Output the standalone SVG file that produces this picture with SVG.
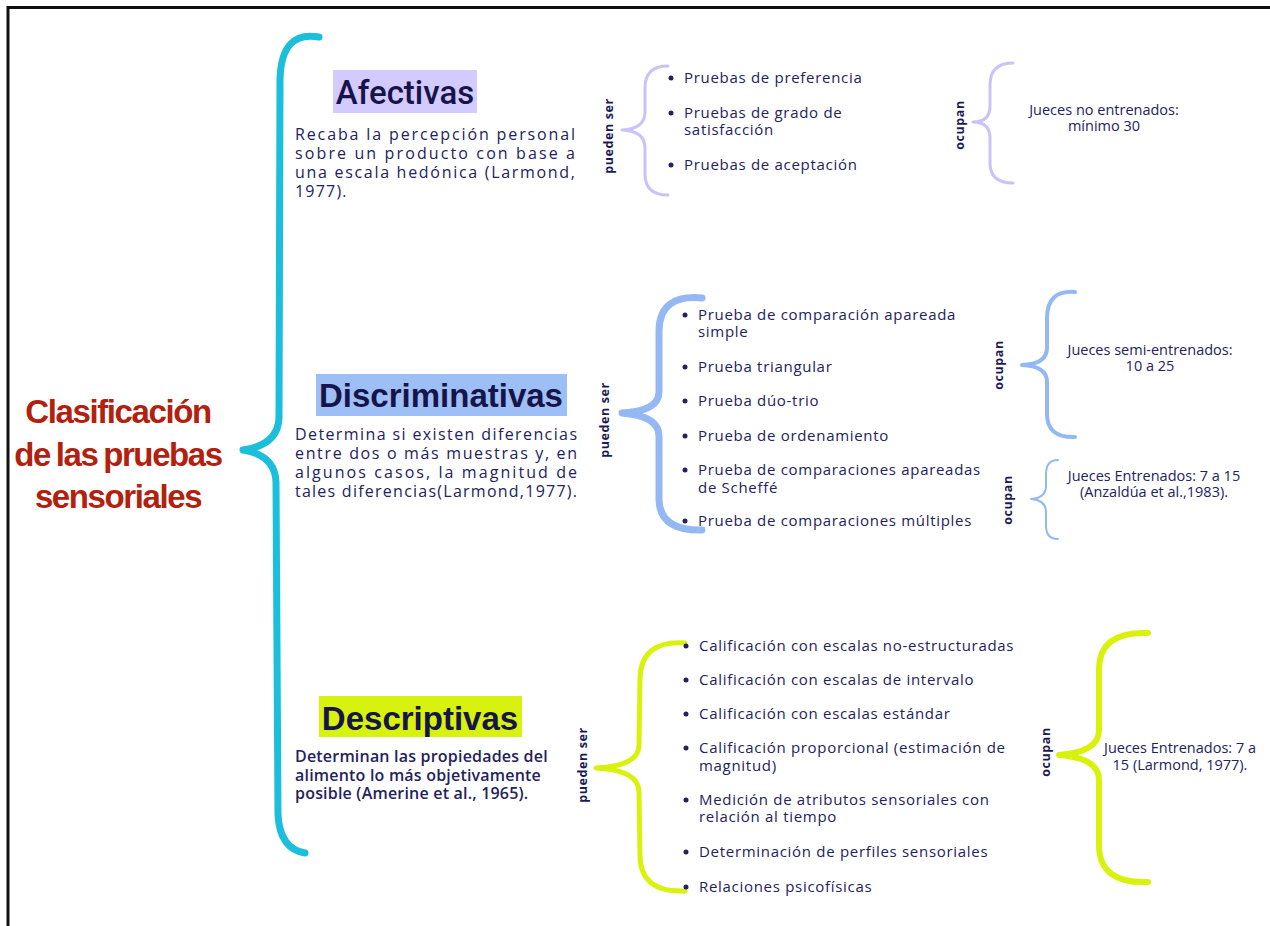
<svg xmlns="http://www.w3.org/2000/svg" width="1270" height="926" viewBox="0 0 1270 926">
<style>
.frame{fill:none;stroke:#111;stroke-width:3}
.br{fill:none;stroke-linecap:round;stroke-linejoin:round}
.title{font-family:"Liberation Sans",Arial,sans-serif;font-weight:bold;font-size:33px;fill:#b3200e;text-anchor:middle;letter-spacing:-1.4px}
.head{font-family:"Liberation Sans",Arial,sans-serif;font-weight:bold;font-size:33px;fill:#16144a;text-anchor:middle}
.desc{font-family:"Open Sans",sans-serif;font-size:16px;fill:#24225e}
.item{font-family:"Open Sans",sans-serif;font-size:15px;letter-spacing:0.7px;fill:#24225e}
.lab{font-family:"Open Sans",sans-serif;font-weight:bold;font-size:12.5px;fill:#1c1a55;text-anchor:middle;letter-spacing:0.6px}
.jud{font-family:"Open Sans",sans-serif;font-size:14.5px;font-weight:500;fill:#24225e;text-anchor:middle}
.dot{fill:#24225e}
</style>
<rect width="1270" height="926" fill="#ffffff"/>
<path class="frame" d="M8,926 L8,7.5 L1270,7.5"/>

<g id="connectors">
  <path class="br" stroke="#1bbfdb" stroke-width="7" d="M319,37 Q281,30 280,80 L279,418 Q278,445 243,450 Q275,455 276,482 L278,815 Q280,849 305,853"/>
  <path class="br" stroke="#cbc2fa" stroke-width="3" d="M668,66 Q645,66 645,88 L645,112 Q645,129 622,130 Q645,131 645,148 L645,174 Q645,195 668,195"/>
  <path class="br" stroke="#cbc2fa" stroke-width="3" d="M1013,63 Q990,63 990,85 L990,106 Q990,122 973,122 Q990,122 990,138 L990,163 Q990,183 1013,183"/>
  <path class="br" stroke="#93b8f2" stroke-width="7" d="M702,298 Q660,294 659,330 L659,392 Q659,411 622,413 Q659,416 659,436 L659,500 Q660,531 702,530"/>
  <path class="br" stroke="#93b8f2" stroke-width="4" d="M1075,292 Q1047,290 1047,318 L1047,348 Q1047,364 1022,365 Q1047,366 1047,382 L1047,414 Q1047,438 1075,437"/>
  <path class="br" stroke="#93b8f2" stroke-width="2" d="M1058,460 Q1046,460 1046,474 L1046,486 Q1046,498 1031,499 Q1046,500 1046,512 L1046,526 Q1046,539 1058,539"/>
  <path class="br" stroke="#d9f20c" stroke-width="5" d="M685,643 Q640,640 640,680 L639,745 Q639,766 596,768 Q639,770 639,792 L640,855 Q640,893 685,891"/>
  <path class="br" stroke="#d9f20c" stroke-width="6" d="M1148,633 Q1099,631 1099,670 L1099,730 Q1099,752 1059,755 Q1099,758 1099,780 L1099,845 Q1099,884 1148,882"/>
</g>

<g id="title">
  <text class="title" x="118" y="423">Clasificación</text>
  <text class="title" x="118" y="466" word-spacing="-2">de las pruebas</text>
  <text class="title" x="118" y="508">sensoriales</text>
</g>

<g id="afectivas">
  <rect x="333" y="70" width="144" height="43" fill="#d3cafd"/>
  <text class="head" x="405" y="104" style="font-family:Roboto,sans-serif;font-weight:500">Afectivas</text>
  <text class="desc" x="295" y="140" textLength="280" lengthAdjust="spacing">Recaba la percepción personal</text>
  <text class="desc" x="295" y="159" textLength="280" lengthAdjust="spacing">sobre un producto con base a</text>
  <text class="desc" x="295" y="178" textLength="280" lengthAdjust="spacing">una escala hedónica (Larmond,</text>
  <text class="desc" x="295" y="197" letter-spacing="1.2">1977).</text>
</g>

<g id="afectivas-tipos">
  <text class="lab" transform="translate(613,136) rotate(-90)">pueden ser</text>
  <circle class="dot" cx="671" cy="78" r="2.5"/>
  <text class="item" x="684" y="83">Pruebas de preferencia</text>
  <circle class="dot" cx="671" cy="113" r="2.5"/>
  <text class="item" x="684" y="118">Pruebas de grado de</text>
  <text class="item" x="684" y="135">satisfacción</text>
  <circle class="dot" cx="671" cy="165" r="2.5"/>
  <text class="item" x="684" y="170">Pruebas de aceptación</text>
</g>

<g id="afectivas-jueces">
  <text class="lab" transform="translate(964,125) rotate(-90)">ocupan</text>
  <text class="jud" x="1104" y="115">Jueces no entrenados:</text>
  <text class="jud" x="1104" y="131">mínimo 30</text>
</g>

<g id="discriminativas">
  <rect x="316" y="374" width="251" height="42" fill="#9ebff5"/>
  <text class="head" x="441" y="407">Discriminativas</text>
  <text class="desc" x="295" y="440" textLength="282" lengthAdjust="spacing">Determina si existen diferencias</text>
  <text class="desc" x="295" y="459" textLength="282" lengthAdjust="spacing">entre dos o más muestras y, en</text>
  <text class="desc" x="295" y="478" textLength="282" lengthAdjust="spacing">algunos casos, la magnitud de</text>
  <text class="desc" x="295" y="497" textLength="282" lengthAdjust="spacing">tales diferencias(Larmond,1977).</text>
</g>

<g id="discriminativas-tipos">
  <text class="lab" transform="translate(609,420) rotate(-90)">pueden ser</text>
  <circle class="dot" cx="685" cy="315" r="2.5"/>
  <text class="item" x="698" y="320">Prueba de comparación apareada</text>
  <text class="item" x="698" y="337">simple</text>
  <circle class="dot" cx="685" cy="367" r="2.5"/>
  <text class="item" x="698" y="372">Prueba triangular</text>
  <circle class="dot" cx="685" cy="401" r="2.5"/>
  <text class="item" x="698" y="406">Prueba dúo-trio</text>
  <circle class="dot" cx="685" cy="436" r="2.5"/>
  <text class="item" x="698" y="441">Prueba de ordenamiento</text>
  <circle class="dot" cx="685" cy="470" r="2.5"/>
  <text class="item" x="698" y="475">Prueba de comparaciones apareadas</text>
  <text class="item" x="698" y="493">de Scheffé</text>
  <circle class="dot" cx="685" cy="521" r="2.5"/>
  <text class="item" x="698" y="526">Prueba de comparaciones múltiples</text>
</g>

<g id="discriminativas-jueces-1">
  <text class="lab" transform="translate(1003,365) rotate(-90)">ocupan</text>
  <text class="jud" x="1150" y="355">Jueces semi-entrenados:</text>
  <text class="jud" x="1150" y="371">10 a 25</text>
</g>

<g id="discriminativas-jueces-2">
  <text class="lab" transform="translate(1012,500) rotate(-90)">ocupan</text>
  <text class="jud" x="1154" y="481">Jueces Entrenados: 7 a 15</text>
  <text class="jud" x="1154" y="497">(Anzaldúa et al.,1983).</text>
</g>

<g id="descriptivas">
  <rect x="319" y="696" width="203" height="41" fill="#d7f20e"/>
  <text class="head" x="420" y="730" font-size="34">Descriptivas</text>
  <text class="desc" x="295" y="762" font-size="16.5" font-weight="600" letter-spacing="0.2">Determinan las propiedades del</text>
  <text class="desc" x="295" y="781" font-size="16.5" font-weight="600" letter-spacing="0.2">alimento lo más objetivamente</text>
  <text class="desc" x="295" y="799" font-size="16.5" font-weight="600" letter-spacing="0.2">posible (Amerine et al., 1965).</text>
</g>

<g id="descriptivas-tipos">
  <text class="lab" transform="translate(587,765) rotate(-90)">pueden ser</text>
  <circle class="dot" cx="686" cy="646" r="2.5"/>
  <text class="item" x="699" y="651">Calificación con escalas no-estructuradas</text>
  <circle class="dot" cx="686" cy="680" r="2.5"/>
  <text class="item" x="699" y="685">Calificación con escalas de intervalo</text>
  <circle class="dot" cx="686" cy="714" r="2.5"/>
  <text class="item" x="699" y="719">Calificación con escalas estándar</text>
  <circle class="dot" cx="686" cy="748" r="2.5"/>
  <text class="item" x="699" y="753">Calificación proporcional (estimación de</text>
  <text class="item" x="699" y="771">magnitud)</text>
  <circle class="dot" cx="686" cy="800" r="2.5"/>
  <text class="item" x="699" y="805">Medición de atributos sensoriales con</text>
  <text class="item" x="699" y="822">relación al tiempo</text>
  <circle class="dot" cx="686" cy="852" r="2.5"/>
  <text class="item" x="699" y="857">Determinación de perfiles sensoriales</text>
  <circle class="dot" cx="686" cy="887" r="2.5"/>
  <text class="item" x="699" y="892">Relaciones psicofísicas</text>
</g>

<g id="descriptivas-jueces">
  <text class="lab" transform="translate(1050,752) rotate(-90)">ocupan</text>
  <text class="jud" x="1180" y="753" font-size="15">Jueces Entrenados: 7 a</text>
  <text class="jud" x="1180" y="770" font-size="15">15 (Larmond, 1977).</text>
</g>
</svg>
